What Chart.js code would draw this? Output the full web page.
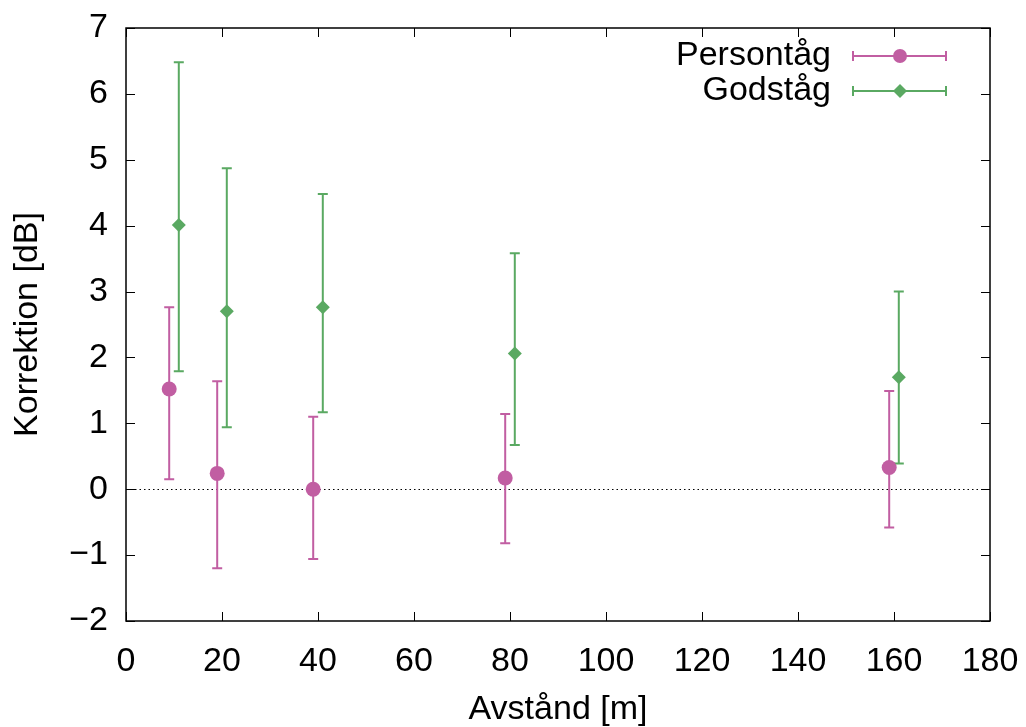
<!DOCTYPE html>
<html>
<head>
<meta charset="utf-8">
<script src="https://cdn.jsdelivr.net/npm/chart.js@4"></script>
<style>
  html, body { margin: 0; padding: 0; background: #fff; }
  #wrap { width: 1026px; height: 727px; }
</style>
</head>
<body>
<div id="wrap"><canvas id="corrChart" width="1026" height="727"></canvas></div>
<script>
// Persontåg
let personX = [9, 19, 39, 79, 159]
let personY = [1.52, 0.24, 0.0, 0.17, 0.33]
let personLo = [0.15, -1.2, -1.06, -0.82, -0.58]
let personHi = [2.76, 1.64, 1.1, 1.14, 1.49]

// Godståg
let godsX = [11, 21, 41, 81, 161]
let godsY = [4.01, 2.7, 2.76, 2.06, 1.7]
let godsLo = [1.79, 0.94, 1.17, 0.67, 0.39]
let godsHi = [6.48, 4.87, 4.48, 3.58, 3.0]

let xTicks = [0, 20, 40, 60, 80, 100, 120, 140, 160, 180]
let yTicks = [-2, -1, 0, 1, 2, 3, 4, 5, 6, 7]

const pink = `#c15ea2`
const green = `#5aa962`
const font = `"Liberation Sans", Arial, sans-serif`
const fsize = 34

function toPoints(xs, ys) {
    return xs.map((x, i) => ({ x: x, y: ys[i] }))
}

// error bars, frame, inward ticks, zero line, legend
const gnuplotLook = {
    id: `gnuplotLook`,
    beforeDatasetsDraw(chart) {
        const ctx = chart.ctx
        const a = chart.chartArea
        const xs = chart.scales.x
        const ys = chart.scales.y

        // dotted zero line
        ctx.save()
        ctx.strokeStyle = `#000`
        ctx.lineWidth = 1
        ctx.setLineDash([1.5, 3])
        ctx.beginPath()
        ctx.moveTo(a.left, Math.round(ys.getPixelForValue(0)) + 0.5)
        ctx.lineTo(a.right, Math.round(ys.getPixelForValue(0)) + 0.5)
        ctx.stroke()
        ctx.restore()

        // error bars
        const bars = [
            { xs: personX, lo: personLo, hi: personHi, c: pink },
            { xs: godsX, lo: godsLo, hi: godsHi, c: green }
        ]
        ctx.save()
        ctx.lineWidth = 2
        bars.forEach((b) => {
            ctx.strokeStyle = b.c
            b.xs.forEach((x, i) => {
                const px = xs.getPixelForValue(x)
                const p1 = ys.getPixelForValue(b.lo[i])
                const p2 = ys.getPixelForValue(b.hi[i])
                ctx.beginPath()
                ctx.moveTo(px, p1)
                ctx.lineTo(px, p2)
                ctx.moveTo(px - 5, p1)
                ctx.lineTo(px + 5, p1)
                ctx.moveTo(px - 5, p2)
                ctx.lineTo(px + 5, p2)
                ctx.stroke()
            })
        })
        ctx.restore()
    },
    afterDatasetsDraw(chart) {
        const ctx = chart.ctx
        const a = chart.chartArea
        const xs = chart.scales.x
        const ys = chart.scales.y

        ctx.save()
        ctx.strokeStyle = `#000`
        ctx.lineWidth = 1.5
        ctx.strokeRect(a.left, a.top, a.right - a.left, a.bottom - a.top)
        ctx.lineWidth = 1
        ctx.beginPath()
        xTicks.forEach((t) => {
            const px = Math.round(xs.getPixelForValue(t)) + 0.5
            ctx.moveTo(px, a.bottom)
            ctx.lineTo(px, a.bottom - 9)
            ctx.moveTo(px, a.top)
            ctx.lineTo(px, a.top + 9)
        })
        yTicks.forEach((t) => {
            const py = Math.round(ys.getPixelForValue(t)) + 0.5
            ctx.moveTo(a.left, py)
            ctx.lineTo(a.left + 9, py)
            ctx.moveTo(a.right, py)
            ctx.lineTo(a.right - 9, py)
        })
        ctx.stroke()

        // legend
        const rows = [
            { label: `Persontåg`, c: pink, style: `circle`, y: 56 },
            { label: `Godståg`, c: green, style: `diamond`, y: 91 }
        ]
        ctx.font = `${fsize}px ${font}`
        ctx.textAlign = `right`
        ctx.textBaseline = `middle`
        rows.forEach((r) => {
            ctx.fillStyle = `#000`
            ctx.fillText(r.label, 831, r.y)
            ctx.strokeStyle = r.c
            ctx.fillStyle = r.c
            ctx.lineWidth = 2
            ctx.beginPath()
            ctx.moveTo(853, r.y)
            ctx.lineTo(946, r.y)
            ctx.moveTo(853, r.y - 5)
            ctx.lineTo(853, r.y + 5)
            ctx.moveTo(946, r.y - 5)
            ctx.lineTo(946, r.y + 5)
            ctx.stroke()
            ctx.beginPath()
            if (r.style === `circle`) {
                ctx.arc(900, r.y, 7, 0, Math.PI * 2)
            } else {
                ctx.moveTo(900, r.y - 7)
                ctx.lineTo(907, r.y)
                ctx.lineTo(900, r.y + 7)
                ctx.lineTo(893, r.y)
                ctx.closePath()
            }
            ctx.fill()
        })
        ctx.restore()
    }
}

function corrChart() {
    const ctx = document.getElementById(`corrChart`)

    new Chart(ctx, {
        type: `scatter`,
        data: {
            datasets: [{
                label: `Persontåg`,
                data: toPoints(personX, personY),
                backgroundColor: pink,
                borderColor: pink,
                pointStyle: `circle`,
                pointRadius: 7.5,
                pointBorderWidth: 0
            }, {
                label: `Godståg`,
                data: toPoints(godsX, godsY),
                backgroundColor: green,
                borderColor: green,
                pointStyle: `rectRot`,
                pointRadius: 7,
                pointBorderWidth: 0
            }]
        },
        options: {
            responsive: false,
            animation: false,
            layout: { padding: { top: 28, right: 36, left: 0, bottom: 0 } },
            plugins: {
                legend: { display: false },
                tooltip: { enabled: false }
            },
            scales: {
                x: {
                    type: `linear`,
                    min: 0,
                    max: 180,
                    afterFit: (s) => {
                        s.height = 106
                        s.paddingLeft = 0
                        s.paddingRight = 0
                    },
                    afterBuildTicks: (s) => { s.ticks = xTicks.map((v) => ({ value: v })) },
                    grid: { display: false, drawTicks: false },
                    border: { display: false },
                    ticks: {
                        color: `#000`,
                        font: { family: font, size: fsize },
                        padding: 20,
                        maxRotation: 0
                    },
                    title: {
                        display: true,
                        text: `Avstånd [m]`,
                        color: `#000`,
                        font: { family: font, size: fsize, lineHeight: 1 },
                        padding: { top: 10, bottom: 0 }
                    }
                },
                y: {
                    type: `linear`,
                    min: -2,
                    max: 7,
                    afterFit: (s) => {
                        s.width = 126
                        s.paddingTop = 0
                        s.paddingBottom = 0
                    },
                    afterBuildTicks: (s) => { s.ticks = yTicks.map((v) => ({ value: v })) },
                    grid: { display: false, drawTicks: false },
                    border: { display: false },
                    ticks: {
                        color: `#000`,
                        font: { family: font, size: fsize },
                        padding: 18,
                        callback: (v) => String(v).replace(`-`, `\u2212`)
                    },
                    title: {
                        display: true,
                        text: `Korrektion [dB]`,
                        color: `#000`,
                        font: { family: font, size: fsize, lineHeight: 1 },
                        padding: { top: 11, bottom: 0 }
                    }
                }
            }
        },
        plugins: [gnuplotLook]
    })
}

corrChart()
</script>
</body>
</html>
